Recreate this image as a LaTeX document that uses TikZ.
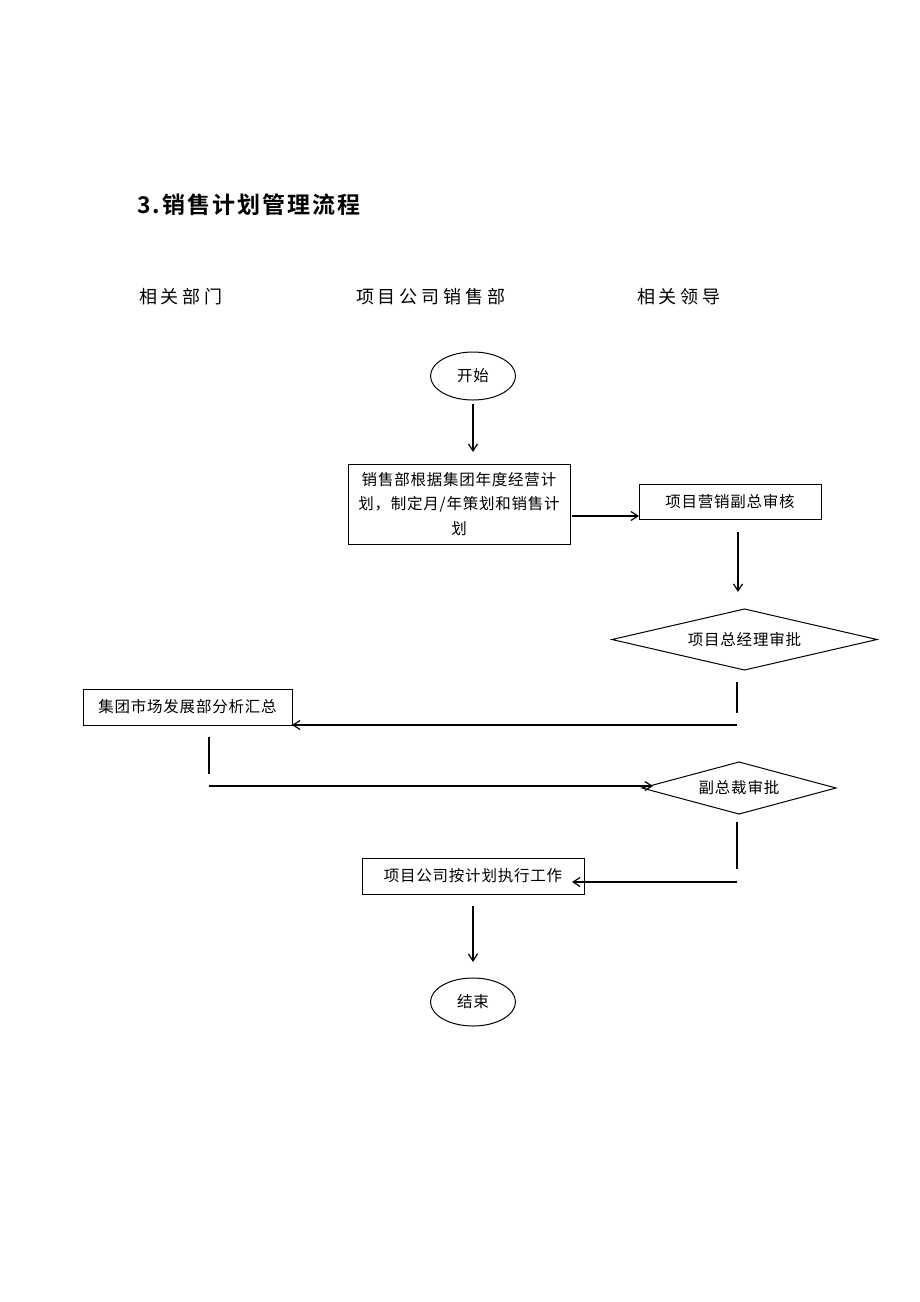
\documentclass[tikz,border=0pt]{standalone}
\usepackage{fontspec}
\usetikzlibrary{shapes.geometric,arrows.meta}
\newfontfamily\cjk[LetterSpace=5]{Noto Sans CJK SC}
\newfontfamily\cjkhead[LetterSpace=22]{Noto Sans CJK SC}
\newfontfamily\cjktitle[LetterSpace=9]{Noto Sans CJK SC Bold}
\begin{document}
\begin{tikzpicture}[x=1pt,y=-1pt,
  every node/.style={inner sep=0pt, outer sep=0pt},
  txt/.style={font=\cjk\fontsize{15.5}{24.5}\selectfont},
  proc/.style={txt, draw, line width=1pt, align=center},
  term/.style={txt, ellipse, draw, line width=1pt, minimum width=85pt, minimum height=48pt},
  dec/.style={txt, diamond, draw, line width=1pt},
  head/.style={font=\cjkhead\fontsize{18}{20}\selectfont, anchor=west},
  conn/.style={line width=1.2pt},
  arr/.style={conn, -{Straight Barb[length=7pt,width=9pt]}}]
\fill[white] (0,0) rectangle (920,1302);
\useasboundingbox (0,0) rectangle (920,1302);

% title and lane headers
\node[font=\cjktitle\fontsize{23}{26}\selectfont, anchor=west] (title) at (137,205) {3.销售计划管理流程};
\node[head] (h1) at (139,297) {相关部门};
\node[head] (h2) at (356,297) {项目公司销售部};
\node[head] (h3) at (637,297) {相关领导};

% nodes
\node[term] (start) at (473,376) {开始};
\node[proc, minimum width=222pt, minimum height=80pt] (b1) at (459,504) {销售部根据集团年度经营计\\划，制定月/年策划和销售计\\划};
\node[proc, minimum width=182pt, minimum height=35pt] (b2) at (730,501.5) {项目营销副总审核};
\node[dec, minimum width=265pt, minimum height=61pt, aspect=4.3] (d1) at (744.5,639.5) {项目总经理审批};
\node[proc, minimum width=209pt, minimum height=36pt] (b3) at (187.5,707) {集团市场发展部分析汇总};
\node[dec, minimum width=194pt, minimum height=52pt, aspect=3.7] (d2) at (739,788) {副总裁审批};
\node[proc, minimum width=222pt, minimum height=36pt] (b4) at (473,876) {项目公司按计划执行工作};
\node[term] (end) at (473,1002) {结束};

% connector end points
\coordinate (p1b) at (473,452);
\coordinate (p2a) at (572,516);
\coordinate (p3a) at (738,532);
\coordinate (p3b) at (738,592);
\coordinate (p4a) at (737,682);
\coordinate (p4b) at (737,713);
\coordinate (p4c) at (737,725);
\coordinate (p5a) at (209,737);
\coordinate (p5b) at (209,774);
\coordinate (p5c) at (209,786);
\coordinate (p5d) at (653,786);
\coordinate (p6a) at (737,822);
\coordinate (p6b) at (737,869);
\coordinate (p6c) at (737,882);
\coordinate (p6d) at (572,882);
\coordinate (p7a) at (473,906);
\coordinate (p7b) at (473,962);

% connectors
\draw[arr, shorten <=4pt] (start.south) -- (p1b);
\draw[arr] (p2a) -- (p2a -| b2.west);
\draw[arr] (p3a) -- (p3b);
\draw[conn] (p4a) -- (p4b);
\draw[arr] (p4c) -- (p4c -| b3.east);
\draw[conn] (p5a) -- (p5b);
\draw[arr] (p5c) -- (p5d);
\draw[conn] (p6a) -- (p6b);
\draw[arr] (p6c) -- (p6d);
\draw[arr] (p7a) -- (p7b);
\end{tikzpicture}
\end{document}
